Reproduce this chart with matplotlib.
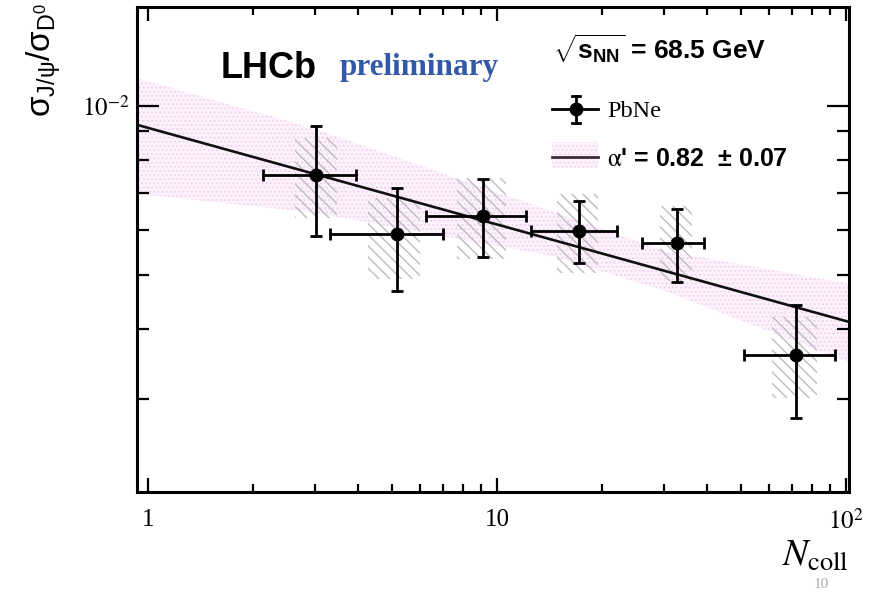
import numpy as np
import matplotlib
matplotlib.use("Agg")
import matplotlib.pyplot as plt
from matplotlib.patches import Rectangle
from matplotlib.lines import Line2D
from matplotlib.ticker import FixedLocator, FixedFormatter, LogLocator, NullFormatter

# PbNe points
n_coll = [3.03, 5.16, 9.14, 17.2, 32.7, 71.9]
n_coll_lo = [2.14, 3.32, 6.25, 12.5, 26.0, 51.0]
n_coll_hi = [3.94, 6.99, 12.1, 22.0, 39.3, 93.0]
ratio = [7.54e-3, 5.91e-3, 6.37e-3, 5.99e-3, 5.70e-3, 3.60e-3]
ratio_lo = [5.87e-3, 4.67e-3, 5.37e-3, 5.24e-3, 4.85e-3, 2.78e-3]
ratio_hi = [9.21e-3, 7.15e-3, 7.42e-3, 6.76e-3, 6.54e-3, 4.42e-3]

# systematic boxes
sys_x_lo = [2.63, 4.27, 7.68, 14.85, 29.3, 61.4]
sys_x_hi = [3.48, 6.01, 10.6, 19.47, 36.2, 82.6]
sys_y_lo = [6.32e-3, 4.92e-3, 5.34e-3, 5.04e-3, 4.88e-3, 3.01e-3]
sys_y_hi = [8.77e-3, 6.86e-3, 7.45e-3, 6.97e-3, 6.64e-3, 4.20e-3]

# fit line and its band
fit_x = [0.93, 102]
fit_y = [9.25e-3, 4.12e-3]
band_x = [0.93, 3.0, 14.2, 30.0, 102]
band_hi = [1.12e-2, 9.10e-3, 6.50e-3, 5.52e-3, 4.82e-3]
band_lo = [6.97e-3, 6.45e-3, 5.41e-3, 4.69e-3, 3.49e-3]

W, H = 873, 592
plt.rcParams["font.family"] = "Liberation Serif"
plt.rcParams["mathtext.fontset"] = "stix"
plt.rcParams["mathtext.rm"] = "Liberation Sans"
plt.rcParams["mathtext.it"] = "Liberation Sans:italic"
plt.rcParams["mathtext.bf"] = "Liberation Sans:bold"
plt.rcParams["hatch.linewidth"] = 1.0

band_face = "#fdf3fd"
band_dots = "#f2d2f2"

fig = plt.figure(figsize=(W / 100, H / 100), dpi=100)
ax = fig.add_axes([137 / W, 1 - 492 / H, (849 - 137) / W, (492 - 7) / H])
ax.set_xscale("log")
ax.set_yscale("log")

# band
ax.fill_between(band_x, band_lo, band_hi, facecolor=band_face, edgecolor=band_dots,
                hatch="....", linewidth=0, zorder=1)

# systematics
for x0, x1, y0, y1 in zip(sys_x_lo, sys_x_hi, sys_y_lo, sys_y_hi):
    ax.add_patch(Rectangle((x0, y0), x1 - x0, y1 - y0, fill=False, hatch="\\" * 3,
                           edgecolor="#bdbdbd", linewidth=0, zorder=2))

ax.plot(fit_x, fit_y, color="#111111", lw=1.9, zorder=3)

x = np.array(n_coll)
y = np.array(ratio)
xerr = [x - np.array(n_coll_lo), np.array(n_coll_hi) - x]
yerr = [y - np.array(ratio_lo), np.array(ratio_hi) - y]
ax.errorbar(x, y, xerr=xerr, yerr=yerr, fmt="o", color="black", ms=9,
            elinewidth=2.0, capsize=4.5, capthick=2.0, zorder=4)

ax.set_xlim(0.93, 102)
ax.set_ylim(2.05e-3, 1.5e-2)

ax.xaxis.set_major_locator(FixedLocator([1, 10, 100]))
ax.xaxis.set_major_formatter(FixedFormatter(["1", "10", r"$10^{2}$"]))
ax.xaxis.set_minor_locator(LogLocator(base=10, subs=np.arange(2, 10)))
ax.xaxis.set_minor_formatter(NullFormatter())
ax.yaxis.set_major_locator(FixedLocator([1e-2]))
ax.yaxis.set_major_formatter(FixedFormatter([r"$10^{-2}$"]))
ax.yaxis.set_minor_locator(LogLocator(base=10, subs=np.arange(2, 10)))
ax.yaxis.set_minor_formatter(NullFormatter())

ax.tick_params(which="both", direction="in", top=True, right=True, width=1.6, labelsize=18)
ax.tick_params(axis="x", which="major", length=10, pad=12)
ax.tick_params(axis="x", which="minor", length=5.5)
ax.tick_params(axis="y", which="major", length=16, pad=5)
ax.tick_params(axis="y", which="minor", length=8.5)
for s in ax.spines.values():
    s.set_linewidth(2.2)

# axis titles
fig.text(44 / W, 1 - 3 / H, r"$\mathrm{\sigma_{J/\psi}/\sigma_{D^{0}}}$", rotation=90,
         ha="center", va="top", fontsize=24, math_fontfamily="custom")
fig.text(849 / W, 1 - 566 / H, r"$N_{\mathrm{coll}}$", ha="right", va="baseline", fontsize=27)

# labels
fig.text(221 / W, 1 - 78 / H, "LHCb", family="Liberation Sans", weight="bold", fontsize=26)
fig.text(340 / W, 1 - 75 / H, "preliminary", family="Liberation Serif", weight="bold",
         fontsize=22.5, color="#3458a8")
fig.text(553 / W, 1 - 60 / H, r"$\sqrt{\mathbf{s}_{\mathbf{NN}}}$ = 68.5 GeV",
         family="Liberation Sans", weight="bold", fontsize=19, math_fontfamily="custom")

# legend, drawn by hand
def fx(px):
    return (px - 137) / (849 - 137)

def fy(py):
    return (492 - py) / (492 - 7)

ax.add_line(Line2D([fx(552), fx(598)], [fy(109), fy(109)], color="black", lw=2.0,
                   transform=ax.transAxes, clip_on=False, zorder=5))
ax.add_line(Line2D([fx(576), fx(576)], [fy(96), fy(123)], color="black", lw=2.0,
                   transform=ax.transAxes, clip_on=False, zorder=5))
for yy in (96, 123):
    ax.add_line(Line2D([fx(572), fx(580)], [fy(yy), fy(yy)], color="black", lw=2.0,
                       transform=ax.transAxes, clip_on=False, zorder=5))
ax.plot([fx(576)], [fy(109)], "o", color="black", ms=9, transform=ax.transAxes,
        clip_on=False, zorder=6)
fig.text(607 / W, 1 - 117 / H, "PbNe", family="Liberation Serif", fontsize=17.5)

ax.add_patch(Rectangle((fx(552), fy(168)), fx(598) - fx(552), fy(142) - fy(168),
                       transform=ax.transAxes, facecolor=band_face, edgecolor=band_dots,
                       hatch="....", linewidth=0, zorder=5))
ax.add_line(Line2D([fx(552), fx(598)], [fy(157), fy(157)], color="#3a2a3a", lw=2.0,
                   transform=ax.transAxes, clip_on=False, zorder=6))
fig.text(607 / W, 1 - 166 / H, r"$\mathrm{\alpha}$' = 0.82  ± 0.07", family="Liberation Sans",
         weight="bold", fontsize=18)

# slide page number
fig.text(821 / W, 1 - 591 / H, "10", ha="center", va="bottom", fontsize=11, color="#aaaaaa")

fig.savefig("out.png", dpi=100)
